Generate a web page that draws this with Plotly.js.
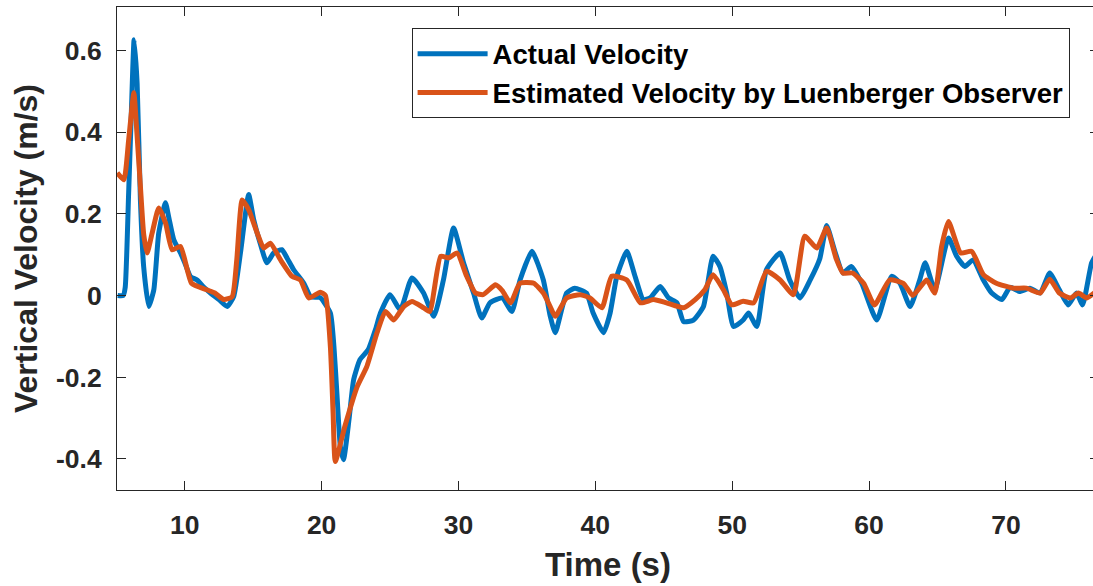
<!DOCTYPE html>
<html>
<head>
<meta charset="utf-8">
<script src="https://cdn.plot.ly/plotly-3.0.1.min.js"></script>
<style>
  html, body { margin: 0; padding: 0; background: #fff; overflow: hidden; }
  #chart { width: 1100px; height: 586px; }
</style>
</head>
<body>
<div id="chart"></div>
<script>
// Actual velocity (blue)
const actualTime = [5.1, 5.5, 5.65, 5.9, 6.1, 6.3, 6.52, 6.76, 7.0, 7.37, 7.74, 8.1, 8.59, 8.84, 9.2, 9.69, 10.0, 10.42, 10.9, 11.4, 11.88, 12.5, 13.1, 13.58, 14.07, 14.67, 15.04, 15.5, 16.0, 16.5, 17.1, 17.5, 17.96, 18.7, 19.2, 19.9, 20.64, 20.9, 21.13, 21.37, 21.6, 22.0, 22.34, 22.8, 23.4, 23.93, 24.3, 25.0, 25.75, 26.6, 27.45, 28.2, 28.9, 29.64, 30.37, 31.1, 31.7, 32.3, 33.2, 33.9, 34.5, 35.37, 36.2, 36.7, 37.07, 37.9, 38.5, 39.35, 39.84, 40.6, 41.08, 41.57, 42.3, 42.9, 43.5, 44.0, 44.74, 45.35, 45.96, 46.45, 47.17, 47.9, 48.6, 49.1, 49.6, 50.1, 50.8, 51.2, 51.8, 52.5, 53.5, 54.2, 54.96, 55.7, 56.4, 56.9, 57.5, 58.1, 58.7, 59.46, 60.56, 61.65, 62.26, 63.0, 63.7, 64.1, 64.8, 65.8, 66.4, 67.0, 67.6, 68.35, 68.96, 69.7, 70.3, 71.0, 71.75, 72.5, 73.2, 73.9, 74.55, 75.15, 75.6, 76.26, 76.6];
const actualVel = [0.0, 0.0, 0.02, 0.25, 0.45, 0.626, 0.52, 0.234, 0.07, -0.027, 0.014, 0.153, 0.227, 0.19, 0.136, 0.104, 0.08, 0.046, 0.038, 0.02, 0.006, -0.01, -0.027, -0.002, 0.104, 0.247, 0.185, 0.129, 0.08, 0.104, 0.112, 0.09, 0.063, 0.03, -0.003, -0.005, -0.043, -0.125, -0.247, -0.37, -0.402, -0.304, -0.206, -0.157, -0.133, -0.084, -0.043, 0.002, -0.035, 0.043, 0.006, -0.051, 0.038, 0.165, 0.08, 0.006, -0.055, -0.018, -0.006, -0.039, 0.038, 0.108, 0.038, -0.05, -0.091, 0.006, 0.018, 0.006, -0.043, -0.091, -0.043, 0.047, 0.108, 0.047, -0.01, -0.006, 0.022, -0.006, -0.018, -0.064, -0.06, -0.027, 0.096, 0.071, 0.006, -0.076, -0.06, -0.043, -0.076, 0.063, 0.104, 0.038, -0.006, 0.038, 0.09, 0.171, 0.108, 0.055, 0.071, 0.03, -0.06, 0.047, 0.03, -0.027, 0.038, 0.08, 0.014, 0.141, 0.096, 0.071, 0.087, 0.038, 0.006, -0.01, 0.02, 0.01, 0.018, 0.006, 0.055, 0.014, -0.023, 0.006, -0.023, 0.08, 0.1];

// Estimated velocity by Luenberger observer (orange)
const estTime = [5.07, 5.55, 5.9, 6.28, 6.5, 6.76, 7.0, 7.25, 7.62, 8.1, 8.6, 9.08, 9.69, 10.5, 11.6, 12.2, 12.85, 13.46, 13.8, 14.2, 14.67, 15.29, 15.77, 16.26, 17.0, 17.84, 18.45, 19.06, 19.9, 20.28, 20.64, 20.84, 21.0, 21.7, 22.6, 23.3, 24.05, 24.66, 25.27, 26.0, 26.6, 27.45, 27.9, 28.7, 29.28, 29.9, 30.6, 31.25, 31.8, 32.7, 33.2, 33.8, 34.5, 35.5, 36.2, 36.7, 37.07, 37.9, 38.9, 39.6, 40.48, 41.2, 42.3, 43.3, 44.25, 45.2, 46.45, 47.3, 48.0, 48.6, 49.36, 49.97, 50.8, 51.57, 52.5, 53.5, 54.47, 55.3, 56.18, 56.9, 57.6, 58.1, 58.8, 59.6, 60.4, 61.5, 62.5, 63.2, 64.2, 64.8, 65.3, 65.8, 66.7, 67.5, 68.35, 69.3, 70.5, 71.5, 72.5, 73.2, 73.9, 74.7, 75.3, 75.9, 76.6];
const estVel = [0.3, 0.283, 0.38, 0.496, 0.4, 0.267, 0.15, 0.104, 0.153, 0.214, 0.177, 0.112, 0.12, 0.03, 0.014, 0.006, -0.01, -0.003, 0.087, 0.234, 0.21, 0.153, 0.116, 0.128, 0.087, 0.047, 0.038, -0.006, 0.008, 0.0, -0.125, -0.288, -0.406, -0.32, -0.223, -0.174, -0.091, -0.039, -0.06, -0.027, -0.015, -0.03, -0.039, 0.096, 0.092, 0.104, 0.047, 0.006, 0.002, 0.026, 0.012, -0.018, 0.03, 0.03, 0.006, -0.027, -0.051, -0.006, 0.002, -0.006, -0.03, 0.047, 0.038, -0.018, -0.01, -0.018, -0.03, -0.01, 0.014, 0.051, 0.014, -0.023, -0.014, -0.018, 0.059, 0.038, 0.002, 0.145, 0.116, 0.165, 0.09, 0.055, 0.055, 0.03, -0.023, 0.038, 0.03, 0.0, 0.038, 0.006, 0.12, 0.181, 0.104, 0.108, 0.051, 0.03, 0.018, 0.018, 0.006, 0.04, 0.006, -0.006, 0.006, -0.006, 0.01];

const xTicks = [10, 20, 30, 40, 50, 60, 70];
const yTicks = [-0.4, -0.2, 0, 0.2, 0.4, 0.6];
const yTickLabels = ['-0.4', '-0.2', '0', '0.2', '0.4', '0.6'];

const seriesNames = ['Actual Velocity', 'Estimated Velocity by Luenberger Observer'];

const FONT = 'Liberation Sans, Arial, Helvetica, sans-serif';
const AX = '#262626';

const traces = [
  { x: actualTime, y: actualVel, type: 'scatter', mode: 'lines', name: seriesNames[0],
    line: { color: '#0072BD', width: 5, shape: 'spline', smoothing: 0.5 } },
  { x: estTime, y: estVel, type: 'scatter', mode: 'lines', name: seriesNames[1],
    line: { color: '#D95319', width: 5, shape: 'spline', smoothing: 0.5 } }
];

const axisCommon = {
  showline: true, linecolor: AX, linewidth: 1, mirror: 'ticks',
  ticks: 'inside', ticklen: 9, tickwidth: 1, tickcolor: AX,
  showgrid: false, zeroline: false,
  tickfont: { family: FONT, size: 26.5, color: AX, weight: 'bold' }
};

const layout = {
  width: 1100, height: 586,
  margin: { l: 117, r: 1, t: 7, b: 96 },
  paper_bgcolor: '#fff', plot_bgcolor: '#fff',
  showlegend: true,
  xaxis: Object.assign({}, axisCommon, {
    range: [5.05, 76.8], tickvals: xTicks, ticklabelstandoff: 11,
    title: { text: 'Time (s)', font: { family: FONT, size: 33, color: AX, weight: 'bold' }, standoff: 14 }
  }),
  yaxis: Object.assign({}, axisCommon, {
    range: [-0.476, 0.706], tickvals: yTicks, ticktext: yTickLabels, ticklabelstandoff: 9,
    title: { text: 'Vertical Velocity (m/s)', font: { family: FONT, size: 32, color: AX, weight: 'bold' }, standoff: 8 }
  }),
  legend: {
    x: 0.3, y: 0.956, xanchor: 'left', yanchor: 'top',
    bgcolor: '#fff', bordercolor: AX, borderwidth: 1,
    font: { family: FONT, size: 27.5, color: '#000', weight: 'bold' },
    itemwidth: 70, tracegroupgap: 0
  }
};

Plotly.newPlot('chart', traces, layout, { displayModeBar: false, staticPlot: true });
</script>
</body>
</html>
